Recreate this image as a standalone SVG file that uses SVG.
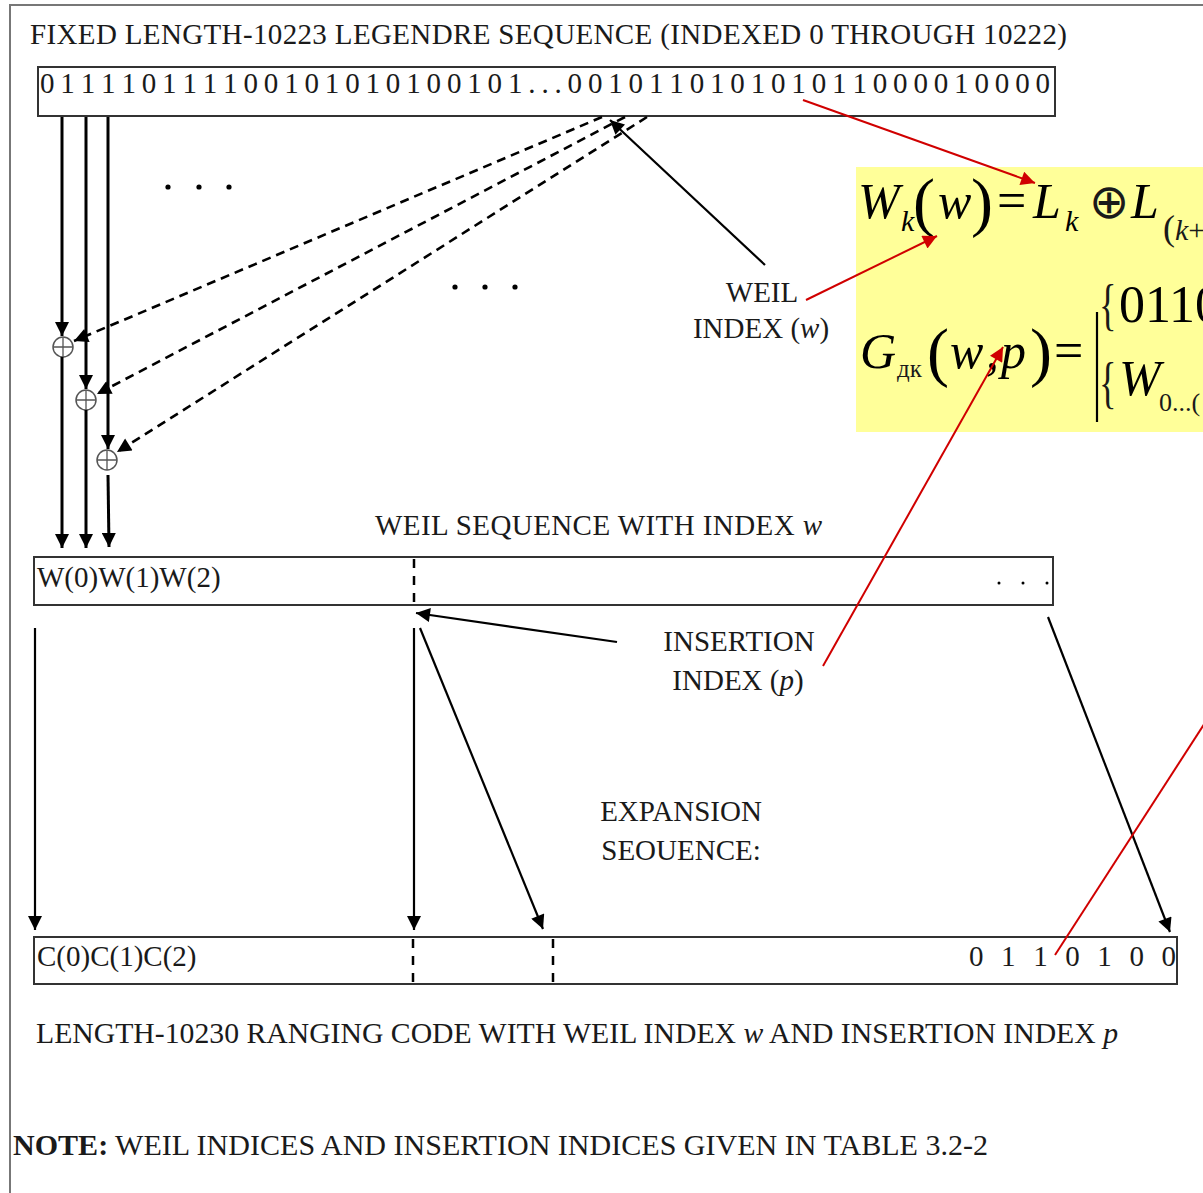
<svg xmlns="http://www.w3.org/2000/svg" width="1203" height="1193" viewBox="0 0 1203 1193">
<style>
text{font-family:"Liberation Serif","Times New Roman",serif;fill:#1a1a1a;}
.t{font-size:29px;}
.box{fill:#fff;stroke:#333;stroke-width:2;}
.ln{stroke:#000;stroke-width:3;fill:none;}
.thin{stroke:#000;stroke-width:2.2;fill:none;}
.dash{stroke:#000;stroke-width:2.6;fill:none;stroke-dasharray:9,6;}
.vd{stroke:#000;stroke-width:2.5;stroke-dasharray:9,8;}
.red{stroke:#d00000;stroke-width:2;fill:none;}
.xor{fill:#fff;stroke:#555;stroke-width:1.5;}
.f{font-size:50px;font-style:italic;fill:#000;}
.fn{font-size:52px;fill:#000;}
.fp{font-size:66px;fill:#000;}
.fs{font-size:30px;font-style:italic;fill:#000;}
.dot{fill:#000;}
</style>
<defs>
<marker id="ah" viewBox="0 0 10 10" refX="10" refY="5" markerWidth="15" markerHeight="14" markerUnits="userSpaceOnUse" orient="auto"><path d="M0,0L10,5L0,10z" fill="#000"/></marker>
<marker id="rh" viewBox="0 0 10 10" refX="10" refY="5" markerWidth="17" markerHeight="14" markerUnits="userSpaceOnUse" orient="auto"><path d="M0,0L10,5L0,10z" fill="#d00000"/></marker>
</defs>
<rect x="0" y="0" width="1203" height="1193" fill="#fff"/>
<path d="M10,1193V5H1203" fill="none" stroke="#777" stroke-width="2"/>

<g id="title"><text class="t" x="30" y="44" font-size="28" textLength="1037">FIXED LENGTH-10223 LEGENDRE SEQUENCE (INDEXED 0 THROUGH 10222)</text></g>

<g id="legendre-seq">
<rect class="box" x="38" y="67" width="1017" height="49"/>
<text class="t" x="40" y="93" font-size="27" textLength="1010">0 1 1 1 1 0 1 1 1 1 0 0 1 0 1 0 1 0 1 0 0 1 0 1 . . . 0 0 1 0 1 1 0 1 0 1 0 1 0 1 1 0 0 0 0 1 0 0 0 0</text>
</g>

<g id="dots">
<circle class="dot" cx="168" cy="187" r="2.6"/><circle class="dot" cx="199" cy="187" r="2.6"/><circle class="dot" cx="229" cy="187" r="2.6"/>
<circle class="dot" cx="455" cy="287" r="2.6"/><circle class="dot" cx="485" cy="287" r="2.6"/><circle class="dot" cx="515" cy="287" r="2.6"/>
</g>

<g id="xor1"><circle class="xor" cx="63" cy="347" r="10"/><path d="M53,347H73M63,337V357" stroke="#555" stroke-width="1.3"/></g>
<g id="xor2"><circle class="xor" cx="86" cy="400" r="10"/><path d="M76,400H96M86,390V410" stroke="#555" stroke-width="1.3"/></g>
<g id="xor3"><circle class="xor" cx="107" cy="460" r="10"/><path d="M97,460H117M107,450V470" stroke="#555" stroke-width="1.3"/></g>

<g id="weil-index-label">
<text class="t" x="762" y="302" text-anchor="middle">WEIL</text>
<text class="t" x="761" y="338" text-anchor="middle">INDEX (<tspan font-style="italic">w</tspan>)</text>
</g>

<g id="weil-seq">
<text class="t" x="375" y="535" textLength="447">WEIL SEQUENCE WITH INDEX <tspan font-style="italic">w</tspan></text>
<rect class="box" x="34" y="557" width="1019" height="48"/>
<text class="t" x="37" y="587">W(0)W(1)W(2)</text>
<line class="vd" x1="414" y1="559" x2="414" y2="605"/>
<circle class="dot" cx="999" cy="583" r="1.5"/><circle class="dot" cx="1023" cy="583" r="1.5"/><circle class="dot" cx="1047" cy="583" r="1.5"/>
</g>

<g id="insertion-label">
<text class="t" x="739" y="651" text-anchor="middle">INSERTION</text>
<text class="t" x="738" y="690" text-anchor="middle">INDEX (<tspan font-style="italic">p</tspan>)</text>
</g>

<g id="expansion-label">
<text class="t" x="681" y="821" text-anchor="middle">EXPANSION</text>
<text class="t" x="681" y="860" text-anchor="middle">SEOUENCE:</text>
</g>

<g id="ranging-code">
<rect class="box" x="34" y="937" width="1143" height="47"/>
<text class="t" x="37" y="966">C(0)C(1)C(2)</text>
<line class="vd" x1="413" y1="939" x2="413" y2="984"/>
<line class="vd" x1="553" y1="939" x2="553" y2="984"/>
<text class="t" x="969" y="966" font-size="27" textLength="207">0 1 1 0 1 0 0</text>
</g>

<g id="captions">
<text class="t" x="36" y="1043" textLength="1082" lengthAdjust="spacingAndGlyphs">LENGTH-10230 RANGING CODE WITH WEIL INDEX <tspan font-style="italic">w</tspan> AND INSERTION INDEX <tspan font-style="italic">p</tspan></text>
<text class="t" x="13" y="1155" textLength="975" lengthAdjust="spacingAndGlyphs"><tspan font-weight="bold">NOTE:</tspan>  WEIL INDICES AND INSERTION INDICES GIVEN IN TABLE 3.2-2</text>
</g>

<g id="formula">
<rect x="856" y="167" width="360" height="265" fill="#ffff99"/>
<text class="f" x="858" y="218">W</text>
<text class="fs" x="901" y="231">k</text>
<text class="fp" x="913" y="224">(</text>
<text class="f" x="938" y="218">w</text>
<text class="fp" x="971" y="224">)</text>
<text class="fn" x="997" y="218">=</text>
<text class="f" x="1033" y="218">L</text>
<text class="fs" x="1065" y="231">k</text>
<text x="1089" y="218" font-size="48" fill="#000" font-family="DejaVu Serif, serif" font-weight="normal">⊕</text>
<text class="f" x="1131" y="218">L</text>
<text x="1163" y="240" font-size="36" fill="#000">(<tspan font-style="italic" font-size="30">k</tspan><tspan font-size="30">+</tspan></text>
<text class="f" x="860" y="368">G</text>
<text x="897" y="377" font-size="25" fill="#000">дк</text>
<text class="fp" x="927" y="374">(</text>
<text class="f" x="950" y="368">w</text>
<text class="fn" x="986" y="368">,</text>
<text class="f" x="1001" y="368">p</text>
<text class="fp" x="1030" y="374">)</text>
<text class="fn" x="1054" y="368">=</text>
<line x1="1097" y1="312" x2="1097" y2="422" stroke="#000" stroke-width="2.2"/>
<text x="0" y="0" font-size="56" fill="#000" transform="translate(1099,324) scale(0.65,1)">{</text>
<text class="fn" x="1119" y="322">0110</text>
<text x="0" y="0" font-size="56" fill="#000" transform="translate(1099,402) scale(0.65,1)">{</text>
<text class="f" x="1119" y="395">W</text>
<text x="1159" y="411" font-size="26" fill="#000">0...(</text>
</g>

<g id="connectors">
<line class="ln" x1="62" y1="117" x2="62" y2="336" marker-end="url(#ah)"/>
<line class="ln" x1="62" y1="357" x2="62" y2="548" marker-end="url(#ah)"/>
<line class="ln" x1="86" y1="117" x2="86" y2="389" marker-end="url(#ah)"/>
<line class="ln" x1="86" y1="410" x2="86" y2="548" marker-end="url(#ah)"/>
<line class="ln" x1="108" y1="117" x2="108" y2="449" marker-end="url(#ah)"/>
<line class="ln" x1="108" y1="475" x2="109" y2="547" marker-end="url(#ah)"/>
<line class="dash" x1="602" y1="117" x2="74" y2="341" marker-end="url(#ah)"/>
<line class="dash" x1="625" y1="117" x2="97" y2="394" marker-end="url(#ah)"/>
<line class="dash" x1="647" y1="117" x2="117" y2="452" marker-end="url(#ah)"/>
<line class="thin" x1="765" y1="265" x2="610" y2="120" marker-end="url(#ah)"/>
<line class="thin" x1="617" y1="642" x2="416" y2="613" marker-end="url(#ah)"/>
<line class="thin" x1="35" y1="628" x2="35" y2="930" marker-end="url(#ah)"/>
<line class="thin" x1="414" y1="628" x2="414" y2="930" marker-end="url(#ah)"/>
<line class="thin" x1="420" y1="628" x2="543" y2="929" marker-end="url(#ah)"/>
<line class="thin" x1="1048" y1="617" x2="1170" y2="932" marker-end="url(#ah)"/>
<line class="red" x1="803" y1="100" x2="1035" y2="183" marker-end="url(#rh)"/>
<line class="red" x1="806" y1="300" x2="937" y2="236" marker-end="url(#rh)"/>
<line class="red" x1="823" y1="666" x2="1003" y2="347" marker-end="url(#rh)"/>
<line class="red" x1="1055" y1="955" x2="1210" y2="715"/>
</g>
</svg>
